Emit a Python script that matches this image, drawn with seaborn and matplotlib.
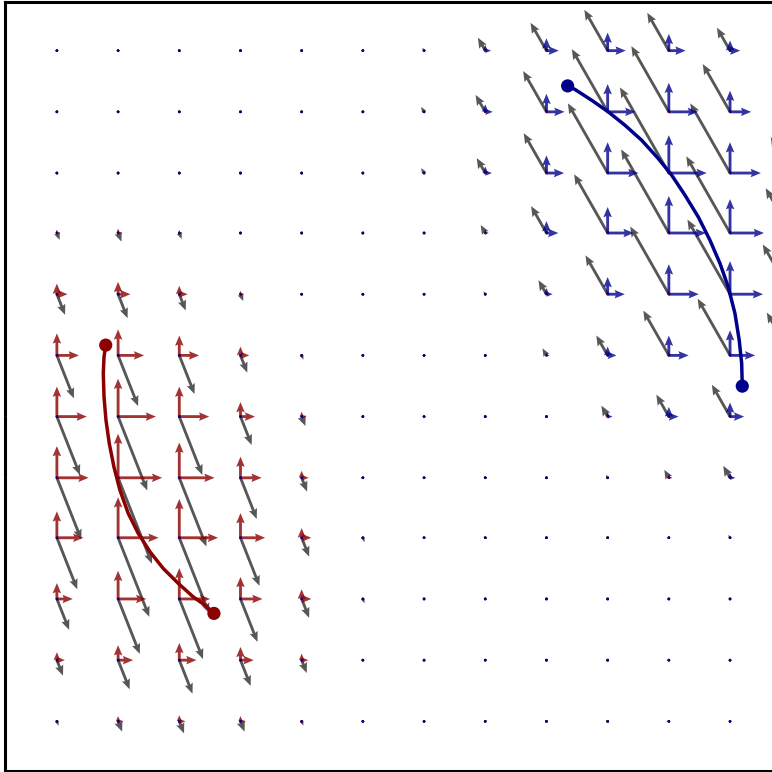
import numpy as np
import matplotlib
matplotlib.use("Agg")
import matplotlib.pyplot as plt
import seaborn as sns

# grid of sample points (data coords, axes span [-pi, pi] on both sides)
grid_x = [-3.22, -2.72, -2.22, -1.72, -1.22, -0.72, -0.22,
          0.28, 0.78, 1.28, 1.78, 2.28, 2.78, 3.28]
grid_y = [2.74, 2.24, 1.74, 1.25, 0.75, 0.25,
          -0.25, -0.75, -1.24, -1.74, -2.24, -2.74]

# red frame weight, rows = grid_y, columns = grid_x[0:7]
red_weight = [
    [0.00, 0.00, 0.00, 0.00, 0.00, 0.00, 0.00],
    [0.00, 0.00, 0.00, 0.00, 0.00, 0.00, 0.00],
    [0.00, 0.01, 0.01, 0.01, 0.00, 0.00, 0.00],
    [0.01, 0.08, 0.10, 0.07, 0.02, 0.00, 0.00],
    [0.07, 0.24, 0.28, 0.19, 0.08, 0.01, 0.00],
    [0.16, 0.50, 0.59, 0.45, 0.20, 0.05, 0.00],
    [0.25, 0.68, 0.86, 0.68, 0.33, 0.11, 0.01],
    [0.25, 0.72, 1.00, 0.80, 0.48, 0.16, 0.02],
    [0.16, 0.60, 0.92, 0.88, 0.56, 0.22, 0.05],
    [0.07, 0.36, 0.64, 0.70, 0.50, 0.22, 0.05],
    [0.02, 0.18, 0.34, 0.39, 0.30, 0.15, 0.03],
    [0.00, 0.05, 0.12, 0.14, 0.12, 0.05, 0.01],
]

# blue frame weight, rows = grid_y, columns = grid_x[7:14]
blue_weight = [
    [0.03, 0.13, 0.28, 0.41, 0.38, 0.23, 0.14],
    [0.05, 0.17, 0.41, 0.63, 0.66, 0.48, 0.25],
    [0.05, 0.15, 0.40, 0.70, 0.86, 0.70, 0.36],
    [0.02, 0.08, 0.27, 0.59, 0.84, 0.77, 0.45],
    [0.01, 0.03, 0.14, 0.39, 0.68, 0.75, 0.50],
    [0.00, 0.01, 0.07, 0.20, 0.45, 0.57, 0.43],
    [0.00, 0.00, 0.02, 0.11, 0.22, 0.32, 0.27],
    [0.00, 0.00, 0.01, 0.03, 0.08, 0.12, 0.11],
    [0.00, 0.00, 0.00, 0.01, 0.02, 0.03, 0.02],
    [0.00, 0.00, 0.00, 0.00, 0.00, 0.00, 0.00],
    [0.00, 0.00, 0.00, 0.00, 0.00, 0.00, 0.00],
    [0.00, 0.00, 0.00, 0.00, 0.00, 0.00, 0.00],
]

# flow vector carried by each frame (per unit weight)
red_flow = [0.77, -1.95]
blue_flow = [-1.29, 2.26]

# the two paths
red_path_x = [-2.321, -2.335, -2.341, -2.335, -2.319, -2.292, -2.254, -2.205,
              -2.137, -2.055, -1.959, -1.851, -1.728, -1.606, -1.510, -1.437]
red_path_y = [0.334, 0.238, 0.102, -0.089, -0.279, -0.470, -0.661, -0.851,
              -1.041, -1.205, -1.355, -1.491, -1.613, -1.723, -1.791, -1.858]
blue_path_x = [1.453, 1.513, 1.649, 1.785, 1.921, 2.058, 2.193, 2.303, 2.412,
               2.520, 2.616, 2.698, 2.765, 2.820, 2.855, 2.875, 2.880]
blue_path_y = [2.452, 2.423, 2.335, 2.240, 2.131, 2.008, 1.859, 1.723, 1.559,
               1.382, 1.191, 1.001, 0.810, 0.593, 0.374, 0.184, -0.001]

sns.set_theme(style="white")

X, Y = np.meshgrid(grid_x, grid_y)
zeros = np.zeros((len(grid_y), 7))
w_red = np.hstack([np.array(red_weight), zeros])
w_blue = np.hstack([zeros, np.array(blue_weight)])
flow_u = w_red * red_flow[0] + w_blue * blue_flow[0]
flow_v = w_red * red_flow[1] + w_blue * blue_flow[1]

fig = plt.figure(figsize=(7.72, 7.72), dpi=100)
ax = fig.add_axes([5.3 / 772, 1.5 / 772, 769 / 772, 769 / 772])

qkw = dict(angles="xy", scale_units="xy", scale=2.78, width=0.0037,
           headwidth=3.0, headlength=3.6, headaxislength=3.2)

ax.quiver(X, Y, flow_u, flow_v, color="0.34", zorder=2, **qkw)
ax.quiver(X, Y, np.zeros_like(w_red), w_red, color="darkred", alpha=0.8, zorder=3, **qkw)
ax.quiver(X, Y, w_red, np.zeros_like(w_red), color="darkred", alpha=0.8, zorder=3, **qkw)
ax.quiver(X, Y, np.zeros_like(w_blue), w_blue, color="darkblue", alpha=0.8, zorder=3, **qkw)
ax.quiver(X, Y, w_blue, np.zeros_like(w_blue), color="darkblue", alpha=0.8, zorder=3, **qkw)

sns.lineplot(x=red_path_x, y=red_path_y, sort=False, estimator=None,
             color="darkred", linewidth=2.5, ax=ax, zorder=4)
sns.lineplot(x=blue_path_x, y=blue_path_y, sort=False, estimator=None,
             color="darkblue", linewidth=2.5, ax=ax, zorder=4)
ax.scatter([red_path_x[0], red_path_x[-1]], [red_path_y[0], red_path_y[-1]],
           s=90, color="darkred", edgecolor="none", zorder=5)
ax.scatter([blue_path_x[0], blue_path_x[-1]], [blue_path_y[0], blue_path_y[-1]],
           s=90, color="darkblue", edgecolor="none", zorder=5)

ax.set_xlim(-np.pi, np.pi)
ax.set_ylim(-np.pi, np.pi)
ax.set_xticks([])
ax.set_yticks([])
for sp in ax.spines.values():
    sp.set_color("black")
    sp.set_linewidth(2.2)

fig.savefig("out.png", dpi=100)
